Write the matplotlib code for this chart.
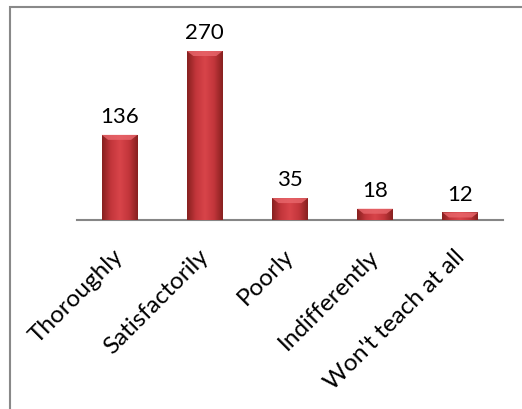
import numpy as np
import matplotlib
matplotlib.use("Agg")
import matplotlib.pyplot as plt
import matplotlib.transforms as mtransforms
from matplotlib.patches import Rectangle
from matplotlib.colors import LinearSegmentedColormap

# data
categories = ["Thoroughly", "Satisfactorily", "Poorly", "Indifferently", "Won't teach at all"]
counts = [136, 270, 35, 18, 12]

plt.rcParams['font.family'] = ['Lato', 'DejaVu Sans']

fig = plt.figure(figsize=(5.22, 4.10), dpi=100)
ax = fig.add_axes([0.1475, 0.461, 0.816, 0.458])

x = np.arange(len(categories))
width = 0.42
bars = ax.bar(x, counts, width=width, color='#b8343a', edgecolor='none', zorder=2)

# horizontal shading to mimic the bevelled Excel bars
shade = LinearSegmentedColormap.from_list(
    'shade', ['#86201f', '#c3363b', '#d8444a', '#c3363b', '#86201f'])
grad = np.linspace(0, 1, 256).reshape(1, -1)
for b in bars:
    x0, w, h = b.get_x(), b.get_width(), b.get_height()
    im = ax.imshow(grad, cmap=shade, aspect='auto', zorder=3,
                   extent=[x0, x0 + w, 0, h], interpolation='bicubic')
    im.set_clip_path(b)
    # lighter cap on top
    cap = min(h, 8)
    ax.fill([x0, x0 + w, x0 + w * 0.82, x0 + w * 0.18],
            [h, h, h - cap, h - cap], color='#e9676c', alpha=0.8, lw=0, zorder=4)

for xi, v in zip(x, counts):
    ax.text(xi, v + 14, str(v), ha='center', va='bottom', fontsize=16, color='black')

ax.set_xlim(-0.5, len(categories) - 0.5)
ax.set_ylim(0, 300)
ax.set_xticks(x)
ax.set_xticklabels(categories, rotation=45, ha='right', rotation_mode='anchor',
                   fontsize=17.5)
ax.tick_params(axis='x', length=0, pad=12)
# nudge labels a little left and down
shift = mtransforms.ScaledTranslation(-7 / 100, -8 / 100, fig.dpi_scale_trans)
for lab in ax.get_xticklabels():
    lab.set_transform(lab.get_transform() + shift)
ax.set_yticks([])
for s in ['top', 'right', 'left']:
    ax.spines[s].set_visible(False)
ax.spines['bottom'].set_color('#868686')
ax.spines['bottom'].set_linewidth(1.5)

# outer chart frame
fig.patches.append(Rectangle((10 / 522, -0.1), 1.2, 1.1 - 8 / 410,
                             transform=fig.transFigure, fill=False,
                             edgecolor='#898989', linewidth=1.5))

fig.savefig('out.png', dpi=100)
